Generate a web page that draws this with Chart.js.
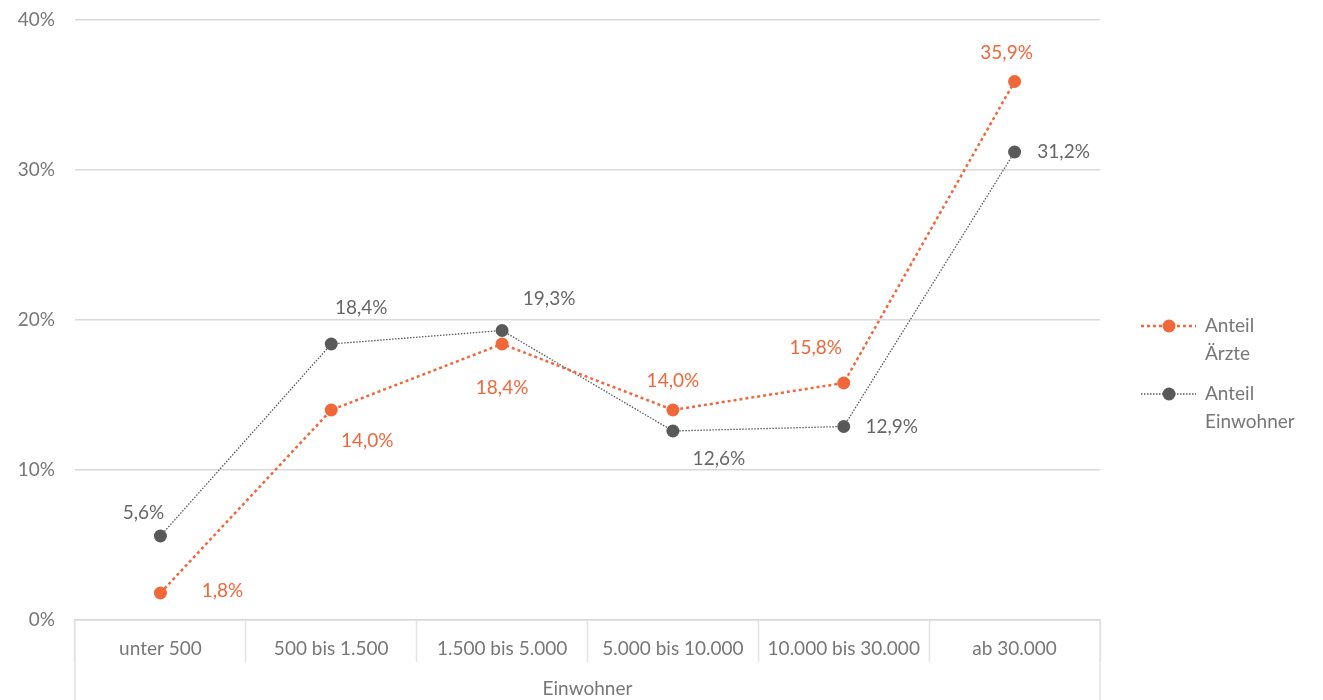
<!DOCTYPE html>
<html>
<head>
<meta charset="utf-8">
<script src="https://cdn.jsdelivr.net/npm/chart.js@4/dist/chart.umd.min.js"></script>
<style>
  html, body { margin: 0; padding: 0; background: #fff; }
  #wrap { width: 1323px; height: 700px; position: relative; }
</style>
</head>
<body>
<div id="wrap"><canvas id="grafico" width="1323" height="700"></canvas></div>
<script>
// Kategorien (Einwohnerzahl der Gemeinde)
const kategorien = ["unter 500", "500 bis 1.500", "1.500 bis 5.000", "5.000 bis 10.000", "10.000 bis 30.000", "ab 30.000"];

// Anteile in Prozent
const anteilAerzte = [1.8, 14.0, 18.4, 14.0, 15.8, 35.9];
const anteilEinwohner = [5.6, 18.4, 19.3, 12.6, 12.9, 31.2];

const yTicks = [0, 10, 20, 30, 40];

const ORANGE = "#f0673a";
const GRAU = "#595959";
const SCHRIFT = "Lato, 'Open Sans', sans-serif";
const GROESSE = 19;

// Versatz der Wertbeschriftungen relativ zum Punkt [dx, dy]
const versatzAerzte = [[62, -2], [36, 31], [0, 44], [0, -29], [-28, -35], [-8, -29]];
const versatzEinwohner = [[-17, -23], [30, -36], [47, -32], [46, 28], [48, 0], [49, 0]];

const fmt = v => v.toFixed(1).replace(".", ",") + "%";

// Beschriftungen, Tabellenrahmen unten und Legende
const extras = {
  id: "extras",
  afterDatasetsDraw(chart) {
    const ctx = chart.ctx;
    ctx.save();
    ctx.font = GROESSE + "px " + SCHRIFT;
    ctx.textAlign = "center";
    ctx.textBaseline = "middle";
    chart.data.datasets.forEach((ds, i) => {
      const meta = chart.getDatasetMeta(i);
      const versatz = i === 0 ? versatzAerzte : versatzEinwohner;
      ctx.fillStyle = i === 0 ? ORANGE : "#666";
      meta.data.forEach((pt, j) => {
        ctx.fillText(fmt(ds.data[j]), pt.x + versatz[j][0], pt.y + versatz[j][1]);
      });
    });
    ctx.restore();
  },
  afterDraw(chart) {
    const ctx = chart.ctx;
    const a = chart.chartArea;
    ctx.save();
    // äußere Rahmenlinien der Achsentabelle
    ctx.strokeStyle = "#e3e3e3";
    ctx.lineWidth = 1.5;
    [a.left, a.right].forEach(x => {
      ctx.beginPath();
      ctx.moveTo(x, a.bottom);
      ctx.lineTo(x, 700);
      ctx.stroke();
    });

    // Legende
    const eintraege = [
      { farbe: ORANGE, breite: 2.5, dash: [3, 3], y: 326, text: ["Anteil", "Ärzte"] },
      { farbe: GRAU, breite: 1.3, dash: [1.5, 1.5], y: 394, text: ["Anteil", "Einwohner"] }
    ];
    eintraege.forEach(e => {
      ctx.strokeStyle = e.farbe;
      ctx.lineWidth = e.breite;
      ctx.setLineDash(e.dash);
      ctx.beginPath();
      ctx.moveTo(1141, e.y);
      ctx.lineTo(1196, e.y);
      ctx.stroke();
      ctx.setLineDash([]);
      ctx.fillStyle = e.farbe;
      ctx.beginPath();
      ctx.arc(1169, e.y, 6.5, 0, Math.PI * 2);
      ctx.fill();
      ctx.fillStyle = "#777";
      ctx.font = GROESSE + "px " + SCHRIFT;
      ctx.textAlign = "left";
      ctx.textBaseline = "middle";
      ctx.fillText(e.text[0], 1205, e.y);
      ctx.fillText(e.text[1], 1205, e.y + 28);
    });
    ctx.restore();
  }
};

const ctx = document.getElementById("grafico").getContext("2d");

new Chart(ctx, {
  type: "line",
  data: {
    labels: kategorien,
    datasets: [
      {
        label: "Anteil Ärzte",
        data: anteilAerzte,
        borderColor: ORANGE,
        backgroundColor: ORANGE,
        borderWidth: 2.5,
        borderDash: [3, 3],
        pointRadius: 6.5,
        pointBorderWidth: 0,
        tension: 0
      },
      {
        label: "Anteil Einwohner",
        data: anteilEinwohner,
        borderColor: GRAU,
        backgroundColor: GRAU,
        borderWidth: 1.3,
        borderDash: [1.5, 1.5],
        pointRadius: 6.5,
        pointBorderWidth: 0,
        tension: 0
      }
    ]
  },
  options: {
    responsive: false,
    animation: false,
    layout: { padding: { top: 20, right: 223, left: 0, bottom: 0 } },
    plugins: {
      legend: { display: false },
      tooltip: { enabled: false }
    },
    scales: {
      x: {
        offset: true,
        grid: {
          offset: true,
          drawOnChartArea: false,
          drawTicks: true,
          tickLength: 42,
          tickColor: "#e3e3e3",
          tickWidth: 1.5
        },
        border: { display: true, color: "#d9d9d9", width: 1.5 },
        ticks: {
          color: "#777",
          font: { family: SCHRIFT, size: GROESSE },
          padding: -25,
          maxRotation: 0,
          autoSkip: false
        },
        title: {
          display: true,
          text: "Einwohner",
          color: "#777",
          font: { family: SCHRIFT, size: GROESSE },
          padding: { top: 0, bottom: 0 }
        },
        afterFit(scale) {
          scale.height = 80;
          scale.paddingLeft = 0;
          scale.paddingRight = 0;
        }
      },
      y: {
        min: 0,
        max: 40,
        afterBuildTicks(scale) { scale.ticks = yTicks.map(v => ({ value: v })); },
        grid: { color: "#d9d9d9", lineWidth: 1.5, drawTicks: false },
        border: { display: false },
        ticks: {
          color: "#777",
          font: { family: SCHRIFT, size: GROESSE },
          padding: 20,
          callback: v => v + "%"
        },
        afterFit(scale) {
          scale.width = 75;
          scale.paddingTop = 0;
          scale.paddingBottom = 0;
        }
      }
    }
  },
  plugins: [extras]
});
</script>
</body>
</html>
